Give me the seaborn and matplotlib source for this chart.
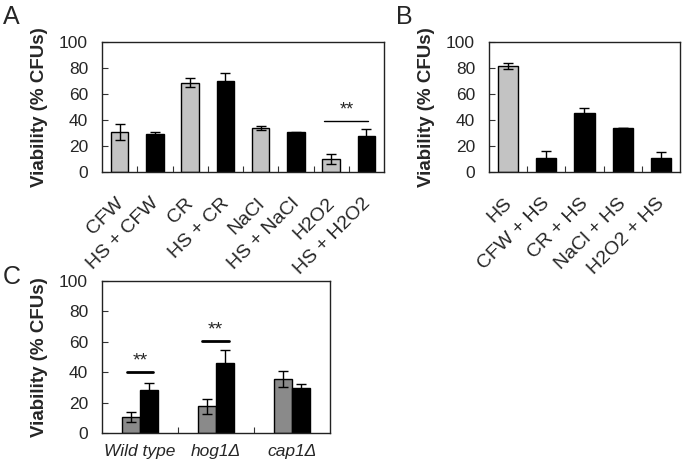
import numpy as np
import pandas as pd
import matplotlib
matplotlib.use("Agg")
import matplotlib.pyplot as plt
import matplotlib.transforms as mtransforms
import seaborn as sns

# panel A: single stress vs heat shock + stress
a_labels = ['CFW', 'HS + CFW', 'CR', 'HS + CR', 'NaCl', 'HS + NaCl', 'H2O2', 'HS + H2O2']
a_vals = [31, 29, 68.5, 70, 34, 30.5, 10, 28]
a_err = [6, 2, 3.5, 6.5, 1.5, 0.5, 3.5, 5]

# panel B: heat shock after pre-treatment
b_labels = ['HS', 'CFW + HS', 'CR + HS', 'NaCl + HS', 'H2O2 + HS']
b_vals = [81.5, 11, 45, 33.5, 11]
b_err = [2.5, 5, 4, 0, 4.5]

# panel C: mutants
c_strains = ['Wild type', 'hog1Δ', 'cap1Δ']
c_conditions = ['H2O2', 'HS + H2O2']
c_grey = [10.5, 17.5, 35.5]
c_grey_err = [3, 5, 5]
c_black = [28, 46, 29.5]
c_black_err = [5, 8.5, 3]

sns.set_style("white")
plt.rcParams['font.family'] = ['Liberation Sans', 'DejaVu Sans']

LIGHT = '#c3c3c3'
DARK = '#8a8a8a'

W, H = 685, 469
fig = plt.figure(figsize=(W / 100, H / 100), dpi=100)


def px_axes(left, top, right, bottom):
    return fig.add_axes([left / W, 1 - bottom / H, (right - left) / W, (bottom - top) / H])


def style_axes(ax, n):
    ax.set_ylim(0, 100)
    ax.set_xlim(-0.5, n - 0.5)
    ax.set_yticks([0, 20, 40, 60, 80, 100])
    ax.set_xticks(np.arange(0.5, n - 0.5, 1), minor=True)
    ax.tick_params(axis='y', direction='in', length=4, width=0.8, left=True,
                   labelsize=12.5, pad=10, color='#333333')
    ax.tick_params(axis='x', which='major', length=0, pad=12)
    ax.tick_params(axis='x', which='minor', direction='in', length=4, width=0.8,
                   bottom=True, color='#333333')
    for s in ax.spines.values():
        s.set_color('#222222')
        s.set_linewidth(1.0)
    ax.set_xlabel('')
    ax.set_ylabel('Viability (% CFUs)', fontsize=13.5, fontweight='bold', labelpad=8)


def add_errors(ax, vals, errs):
    bars = sorted(ax.patches, key=lambda p: p.get_x())
    xs = [p.get_x() + p.get_width() / 2 for p in bars]
    ax.errorbar(xs, vals, yerr=errs, fmt='none', ecolor='black', elinewidth=1,
                capsize=3.5, capthick=1, zorder=5)


def slant_labels(ax, labels):
    ax.set_xticks(range(len(labels)))
    ax.set_xticklabels(labels, rotation=45, ha='right', va='top',
                       rotation_mode='anchor', fontsize=14)
    shift = mtransforms.ScaledTranslation(-5 / 100, -6 / 100, fig.dpi_scale_trans)
    for t in ax.get_xticklabels():
        t.set_transform(t.get_transform() + shift)


# ---- A ----
axA = px_axes(102, 42, 384, 172)
dfA = pd.DataFrame({'cond': a_labels, 'viab': a_vals})
colsA = [LIGHT if i % 2 == 0 else 'black' for i in range(len(a_labels))]
sns.barplot(data=dfA, x='cond', y='viab', hue='cond', palette=colsA, width=0.5,
            edgecolor='black', linewidth=1, errorbar=None, legend=False, ax=axA)
add_errors(axA, a_vals, a_err)
style_axes(axA, len(a_labels))
slant_labels(axA, a_labels)
axA.plot([5.8, 7.05], [39, 39], color='black', lw=1)
axA.text(6.45, 41, '**', ha='center', va='bottom', fontsize=13)

# ---- B ----
axB = px_axes(489, 42, 680, 172)
dfB = pd.DataFrame({'cond': b_labels, 'viab': b_vals})
colsB = [LIGHT] + ['black'] * (len(b_labels) - 1)
sns.barplot(data=dfB, x='cond', y='viab', hue='cond', palette=colsB, width=0.53,
            edgecolor='black', linewidth=1, errorbar=None, legend=False, ax=axB)
add_errors(axB, b_vals, b_err)
style_axes(axB, len(b_labels))
slant_labels(axB, b_labels)

# ---- C ----
axC = px_axes(102, 281, 330, 433)
dfC = pd.DataFrame({
    'strain': c_strains * 2,
    'cond': [c_conditions[0]] * 3 + [c_conditions[1]] * 3,
    'viab': c_grey + c_black,
})
sns.barplot(data=dfC, x='strain', y='viab', hue='cond', palette=[DARK, 'black'],
            width=0.48, edgecolor='black', linewidth=1, errorbar=None, legend=False, ax=axC)
c_vals = [v for pair in zip(c_grey, c_black) for v in pair]
c_errs = [e for pair in zip(c_grey_err, c_black_err) for e in pair]
add_errors(axC, c_vals, c_errs)
style_axes(axC, len(c_strains))
axC.set_xticks(range(len(c_strains)))
axC.set_xticklabels(c_strains, fontsize=12.5, style='italic')
axC.tick_params(axis='x', which='major', pad=8)
axC.plot([-0.17, 0.17], [40, 40], color='black', lw=2)
axC.text(0, 42, '**', ha='center', va='bottom', fontsize=14)
axC.plot([0.82, 1.17], [60.5, 60.5], color='black', lw=2)
axC.text(0.995, 62.5, '**', ha='center', va='bottom', fontsize=14)

# panel letters
fig.text(3 / W, 1 - 24 / H, 'A', fontsize=18)
fig.text(396 / W, 1 - 24 / H, 'B', fontsize=18)
fig.text(3 / W, 1 - 284 / H, 'C', fontsize=18)

fig.savefig('out.png', dpi=100)
